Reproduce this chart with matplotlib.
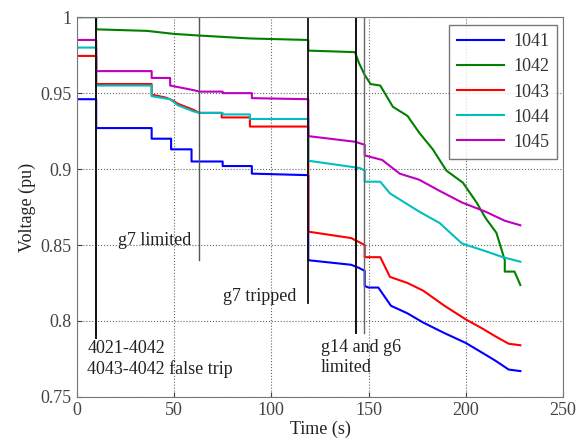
import matplotlib
matplotlib.use("Agg")
import matplotlib.pyplot as plt

# ---- data ----
t_1041 = [0, 10, 10, 38.5, 38.5, 48.5, 48.5, 59, 59, 63, 63, 75, 75, 90, 90, 119, 119, 141, 145, 148, 148, 150, 155, 161.5, 170, 178, 189, 200, 208.5, 215, 222, 228]
v_1041 = [0.946, 0.946, 0.927, 0.927, 0.920, 0.920, 0.913, 0.913, 0.905, 0.905, 0.905, 0.905, 0.902, 0.902, 0.897, 0.896, 0.840, 0.837, 0.835, 0.833, 0.823, 0.822, 0.822, 0.810, 0.805, 0.799, 0.792, 0.7855, 0.779, 0.774, 0.768, 0.767]

t_1042 = [0, 10, 10, 36, 50, 62, 89, 119, 119, 143, 145, 148, 151, 156, 162.5, 170, 176, 183, 190, 198.5, 205.5, 210, 215.7, 220, 220, 225, 228]
v_1042 = [1.0, 1.0, 0.992, 0.991, 0.989, 0.988, 0.986, 0.985, 0.978, 0.977, 0.970, 0.962, 0.956, 0.955, 0.941, 0.935, 0.924, 0.913, 0.899, 0.891, 0.878, 0.868, 0.858, 0.840, 0.8325, 0.8325, 0.8237]

t_1043 = [0, 10, 10, 38.5, 38.5, 46, 49.6, 52, 60, 63, 74.5, 74.5, 89, 89, 119, 119, 141, 145, 148, 148, 156, 161, 170, 178, 189, 200, 208.5, 215, 222, 228]
v_1043 = [0.9745, 0.9745, 0.956, 0.956, 0.949, 0.947, 0.945, 0.943, 0.939, 0.937, 0.937, 0.934, 0.934, 0.928, 0.928, 0.8588, 0.8546, 0.852, 0.850, 0.842, 0.842, 0.829, 0.825, 0.820, 0.810, 0.801, 0.795, 0.790, 0.785, 0.784]

t_1044 = [0, 10, 10, 38.5, 38.5, 48, 52, 60, 63, 75, 75, 89, 89, 119, 119, 145.5, 148, 148, 156, 161, 176, 186.5, 198, 210, 219, 228]
v_1044 = [0.980, 0.980, 0.955, 0.955, 0.948, 0.946, 0.942, 0.938, 0.937, 0.937, 0.936, 0.936, 0.933, 0.933, 0.9055, 0.9007, 0.899, 0.8917, 0.8917, 0.884, 0.872, 0.8645, 0.851, 0.846, 0.842, 0.839]

t_1045 = [0, 10, 10, 38.5, 38.5, 48, 48, 60, 63, 75, 75, 90, 90, 119, 119, 143, 148, 148, 157, 166, 176, 186, 198, 210, 220, 228]
v_1045 = [0.985, 0.985, 0.9645, 0.9645, 0.960, 0.960, 0.955, 0.952, 0.951, 0.951, 0.950, 0.950, 0.9467, 0.946, 0.9217, 0.918, 0.916, 0.909, 0.906, 0.897, 0.893, 0.886, 0.878, 0.872, 0.866, 0.863]

series_names = ["1041", "1042", "1043", "1044", "1045"]
series_t = [t_1041, t_1042, t_1043, t_1044, t_1045]
series_v = [v_1041, v_1042, v_1043, v_1044, v_1045]
colors = ["#0000ff", "#008000", "#ff0000", "#00bfbf", "#bf00bf"]

# event markers: time, bottom of line, colour, width
event_t = [10, 63, 119, 143.6, 147.5]
event_bottom = [0.789, 0.840, 0.812, 0.792, 0.792]
event_color = ["#111111", "#555555", "#111111", "#111111", "#666666"]
event_lw = [1.4, 1.0, 1.3, 1.4, 1.0]

annot_text = ["4021-4042\n4043-4042 false trip", "g7 limited", "g7 tripped", "g14 and g6\nlimited"]
annot_xy = [(5.5, 0.775), (21, 0.853), (75, 0.816), (125.5, 0.776)]

xticks = [0, 50, 100, 150, 200, 250]
yticks = [0.75, 0.8, 0.85, 0.9, 0.95, 1.0]
ytick_labels = ["0.75", "0.8", "0.85", "0.9", "0.95", "1"]

plt.rcParams['font.family'] = ['Liberation Serif', 'DejaVu Serif']

fig = plt.figure(figsize=(5.77, 4.41), dpi=100)
ax = fig.add_axes([0.133, 0.1, 0.843, 0.861])

for t, v, c, n in zip(series_t, series_v, colors, series_names):
    ax.plot(t, v, color=c, lw=1.5, label=n)

for xe, yb, c, lw in zip(event_t, event_bottom, event_color, event_lw):
    ax.plot([xe, xe], [yb, 1.0], color=c, lw=lw)

for s, (x, y) in zip(annot_text, annot_xy):
    ax.text(x, y, s, fontsize=13, color="#222222", va="center", ha="left", linespacing=1.2)

ax.set_xlim(0, 250)
ax.set_ylim(0.75, 1.0)
ax.set_xticks(xticks)
ax.set_yticks(yticks)
ax.set_yticklabels(ytick_labels)
ax.grid(True, linestyle=':', color='#666666', lw=0.8)
ax.tick_params(direction='in', labelsize=13, colors='#444444', labelcolor='#444444', pad=4)
for sp in ax.spines.values():
    sp.set_color('#777777')

ax.set_xlabel("Time (s)", fontsize=13, color="#222222", labelpad=1)
ax.set_ylabel("Voltage (pu)", fontsize=13, color="#222222", labelpad=3)

leg = ax.legend(loc='upper right', fontsize=13, frameon=True, fancybox=False,
                edgecolor='#555555', handlelength=2.6, handletextpad=0.5, borderpad=0.45,
                labelspacing=0.45, borderaxespad=0.0,
                bbox_to_anchor=(0.988, 0.979))
leg.get_frame().set_linewidth(1.0)
for txt in leg.get_texts():
    txt.set_color('#333333')

fig.savefig("out.png", dpi=100)
